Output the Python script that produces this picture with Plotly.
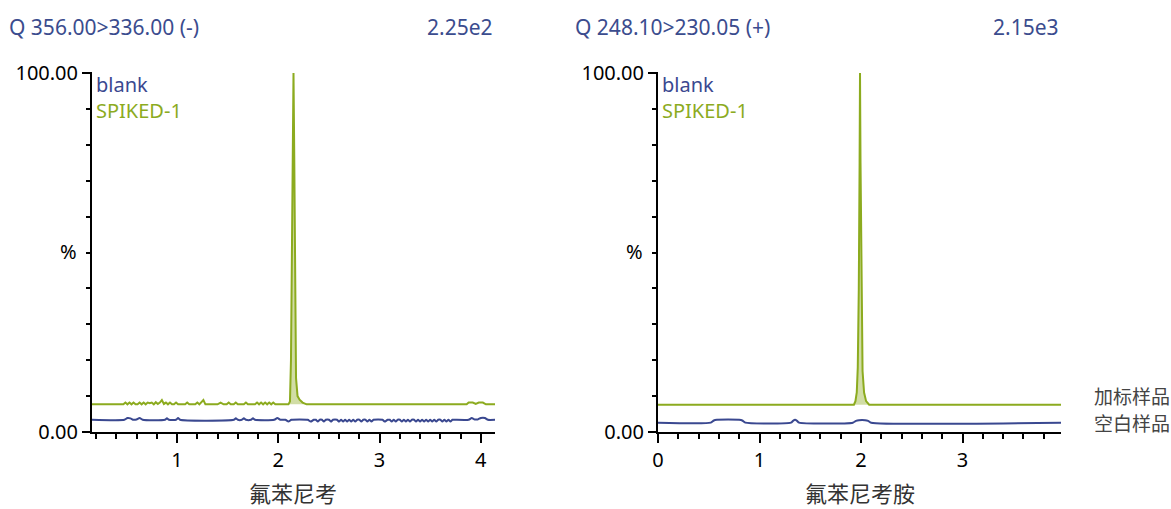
import plotly.graph_objects as go

# ---------------- data ----------------
# Left panel (氟苯尼考): blank trace
blank_L_x = [0.16, 0.48, 0.51, 0.54, 0.57, 0.60, 0.63, 0.66,
             0.88, 0.90, 0.92, 0.99, 1.01, 1.03,
             1.56, 1.58, 1.60, 1.64, 1.66, 1.68, 1.73, 1.75, 1.77,
             1.96, 1.99, 2.02, 2.07, 2.10, 2.13,
             2.29, 2.32, 2.35, 2.37, 2.39, 2.41, 2.43, 2.45, 2.47, 2.50, 2.52, 2.54,
             2.58, 2.60, 2.62, 2.64, 2.66, 2.68, 2.70, 2.72, 2.74, 2.76, 2.78, 2.80, 2.82, 2.84, 2.86, 2.88, 2.90, 2.92, 2.94,
             3.03, 3.05, 3.08, 3.10, 3.12, 3.14, 3.16, 3.18, 3.20, 3.22, 3.24, 3.26, 3.28, 3.30, 3.32, 3.34, 3.36, 3.38, 3.40, 3.42, 3.44,
             3.46, 3.48, 3.50, 3.52, 3.54, 3.56, 3.58, 3.60, 3.62, 3.64, 3.66, 3.68, 3.70, 3.72, 3.74,
             3.88, 3.91, 3.94, 3.97, 4.00, 4.04, 4.07, 4.14]
blank_L_y = [3.4, 3.4, 3.9, 3.8, 3.4, 3.5, 3.9, 3.4,
             3.4, 3.8, 3.4, 3.4, 3.9, 3.4,
             3.4, 3.8, 3.4, 3.4, 3.8, 3.4, 3.4, 3.8, 3.4,
             3.4, 3.9, 3.4, 3.4, 2.9, 3.4,
             3.4, 2.9, 3.4, 3.4, 2.9, 3.4, 3.4, 2.9, 3.4, 3.4, 2.9, 3.4,
             3.4, 2.9, 3.4, 2.9, 3.4, 2.9, 3.4, 2.9, 3.4, 2.9, 3.4, 3.4, 2.9, 3.4, 3.4, 2.9, 3.4, 2.9, 3.4,
             3.4, 2.9, 3.4, 3.4, 2.9, 3.4, 2.9, 3.4, 3.4, 2.9, 3.4, 2.9, 3.4, 2.9, 3.4, 3.4, 2.9, 3.4, 2.9, 3.4, 2.9,
             3.4, 2.9, 3.4, 2.9, 3.4, 2.9, 3.4, 3.4, 2.9, 3.4, 2.9, 3.4, 2.9, 3.4, 3.4,
             3.4, 3.9, 3.5, 3.5, 3.9, 3.9, 3.4, 3.4]

# Left panel: SPIKED-1 trace (before peak, peak, after peak)
spk_L_pre_x = [0.16, 0.47, 0.49, 0.51, 0.53, 0.55, 0.57, 0.59, 0.61, 0.63, 0.65, 0.67, 0.69, 0.71, 0.73,
               0.75, 0.77, 0.79, 0.81, 0.83, 0.85, 0.87, 0.89, 0.91, 0.93, 0.95, 0.97, 0.99, 1.01,
               1.08, 1.10, 1.12, 1.18, 1.20, 1.22, 1.24, 1.26, 1.28,
               1.40, 1.43, 1.46, 1.49, 1.51, 1.53, 1.56, 1.58, 1.60, 1.66, 1.68, 1.70,
               1.77, 1.79, 1.81, 1.83, 1.85, 1.87, 1.89, 1.91, 1.93, 1.95, 1.97, 2.10]
spk_L_pre_y = [7.7, 7.7, 8.2, 7.7, 8.2, 7.7, 8.2, 7.7, 7.7, 8.2, 7.7, 8.2, 7.7, 8.2, 8.0,
               8.2, 7.7, 8.3, 7.8, 8.2, 8.9, 7.8, 8.2, 7.7, 8.2, 7.7, 7.7, 8.2, 7.7,
               7.7, 8.2, 7.7, 7.7, 8.2, 7.7, 8.2, 8.9, 7.7,
               7.7, 8.2, 7.7, 7.7, 8.2, 7.7, 7.7, 8.2, 7.7, 7.7, 8.2, 7.7,
               7.7, 8.2, 7.7, 8.2, 7.7, 8.2, 7.7, 8.2, 7.7, 8.2, 7.7, 7.7]
peak_L_x = [2.10, 2.115, 2.125, 2.138, 2.150, 2.158, 2.166, 2.175, 2.19, 2.21, 2.24, 2.28]
peak_L_y = [7.7, 8.5, 20.0, 60.0, 100.0, 75.0, 40.0, 15.0, 10.0, 9.0, 8.2, 7.7]
spk_L_post_x = [3.86, 3.88, 3.92, 3.95, 3.98, 4.02, 4.05, 4.14]
spk_L_post_y = [7.7, 8.2, 8.2, 7.8, 8.2, 8.2, 7.7, 7.7]

# Right panel (氟苯尼考胺)
blank_R_x = [0.0, 0.52, 0.55, 0.58, 0.80, 0.83, 0.86, 1.31, 1.33, 1.35, 1.37, 1.39,
             1.92, 1.95, 1.98, 2.04, 2.07, 2.10, 3.97]
blank_R_y = [2.6, 2.6, 3.2, 3.4, 3.4, 3.2, 2.6, 2.6, 3.1, 3.4, 3.1, 2.6,
             2.6, 3.1, 3.3, 3.3, 3.1, 2.6, 2.6]
spk_R_pre_x = [0.0, 1.93]
spk_R_pre_y = [7.6, 7.6]
peak_R_x = [1.93, 1.945, 1.958, 1.968, 1.978, 1.986, 1.990, 1.995, 2.005, 2.015, 2.03, 2.05, 2.08]
peak_R_y = [7.6, 8.6, 11.0, 18.0, 40.0, 75.0, 100.0, 75.0, 35.0, 17.0, 11.0, 8.6, 7.6]
spk_R_post_x = [3.97]
spk_R_post_y = [7.6]

titles_L = ["Q 356.00>336.00 (-)", "2.25e2"]
titles_R = ["Q 248.10>230.05 (+)", "2.15e3"]
compounds = ["氟苯尼考", "氟苯尼考胺"]
series_names = ["blank", "SPIKED-1"]
side_labels = ["加标样品", "空白样品"]
x_ticks_L = [1, 2, 3, 4]
x_ticks_R = [0, 1, 2, 3]
y_ticks = [0, 100]
y_ticktext = ["0.00", "100.00"]

# ---------------- style ----------------
W, H = 1171, 509
BLUE = "#3a4890"
GREEN = "#8cab1f"
TITLE = "#3b4c8e"
FILL = "rgba(140,171,31,0.40)"
FONT = "Noto Sans, Noto Sans CJK SC, sans-serif"


def px(p):
    return p / W


def py(p):
    return 1 - p / H


fig = go.Figure()

for xa, ya, bx, by, pre_x, pre_y, pk_x, pk_y, post_x, post_y in [
    ("x", "y", blank_L_x, blank_L_y, spk_L_pre_x, spk_L_pre_y, peak_L_x, peak_L_y, spk_L_post_x, spk_L_post_y),
    ("x2", "y2", blank_R_x, blank_R_y, spk_R_pre_x, spk_R_pre_y, peak_R_x, peak_R_y, spk_R_post_x, spk_R_post_y),
]:
    fig.add_trace(go.Scatter(x=pk_x, y=pk_y, fill="toself", fillcolor=FILL, mode="none",
                             xaxis=xa, yaxis=ya, showlegend=False, hoverinfo="skip"))
    fig.add_trace(go.Scatter(x=bx, y=by, mode="lines", line=dict(color=BLUE, width=2, shape="spline", smoothing=0.6),
                             xaxis=xa, yaxis=ya, showlegend=False, name=series_names[0]))
    fig.add_trace(go.Scatter(x=pre_x + pk_x + post_x, y=pre_y + pk_y + post_y, mode="lines",
                             line=dict(color=GREEN, width=2),
                             xaxis=xa, yaxis=ya, showlegend=False, name=series_names[1]))

xdomL = [px(92), px(495)]
xdomR = [px(658), px(1061)]
ydom = [py(432), py(72)]

axis_common = dict(showline=True, linecolor="black", linewidth=2, ticks="outside",
                   tickcolor="black", tickwidth=2, showgrid=False, zeroline=False,
                   tickfont=dict(family=FONT, size=20, color="black"), automargin=False)

fig.update_layout(
    width=W, height=H, margin=dict(l=0, r=0, t=0, b=0),
    paper_bgcolor="white", plot_bgcolor="white", template="none",
    xaxis=dict(domain=xdomL, range=[0.16, 4.14], tickvals=x_ticks_L, ticklen=9, anchor="y",
               minor=dict(dtick=0.2, tick0=0, ticklen=5, tickwidth=2, tickcolor="black", ticks="outside"),
               **axis_common),
    yaxis=dict(domain=ydom, range=[0, 100.3], tickvals=y_ticks, ticktext=y_ticktext, ticklen=8, anchor="x",
               minor=dict(dtick=10, ticklen=4, tickwidth=2, tickcolor="black", ticks="outside"),
               **axis_common),
    xaxis2=dict(domain=xdomR, range=[0, 3.97], tickvals=x_ticks_R, ticklen=9, anchor="y2",
                minor=dict(dtick=0.2, tick0=0, ticklen=5, tickwidth=2, tickcolor="black", ticks="outside"),
                **axis_common),
    yaxis2=dict(domain=ydom, range=[0, 100.3], tickvals=y_ticks, ticktext=y_ticktext, ticklen=8, anchor="x2",
                minor=dict(dtick=10, ticklen=4, tickwidth=2, tickcolor="black", ticks="outside"),
                **axis_common),
)

ann = []


def add(text, x, y, size, color, xanchor="left", yanchor="middle"):
    ann.append(dict(text=text, x=px(x), y=py(y), xref="paper", yref="paper", showarrow=False,
                    xanchor=xanchor, yanchor=yanchor, borderpad=0, align="left",
                    font=dict(family=FONT, size=size, color=color)))


add(titles_L[0], 8, 27, 21, TITLE)
add(titles_L[1], 494, 27, 21, TITLE, "right")
add(titles_R[0], 574, 27, 21, TITLE)
add(titles_R[1], 1060, 27, 21, TITLE, "right")
legend_text = (f"<span style='color:{BLUE}'>{series_names[0]}</span><br>"
               f"<span style='color:{GREEN}'>{series_names[1]}</span>")
for x0 in (95, 661):
    add(legend_text, x0, 97.5, 20, BLUE)
add("%", 78, 252, 20, "black", "right")
add("%", 644, 252, 20, "black", "right")
add(compounds[0], 293, 509, 22, "#333333", "center", "bottom")
add(compounds[1], 860, 509, 22, "#333333", "center", "bottom")
add(side_labels[0], 1093, 397, 19, "#444444")
add(side_labels[1], 1093, 424, 19, "#444444")

fig.update_layout(annotations=ann)
fig.write_html("out.html", config={"displayModeBar": False},
               post_script="document.body.style.margin='0';document.body.style.overflow='hidden';")
